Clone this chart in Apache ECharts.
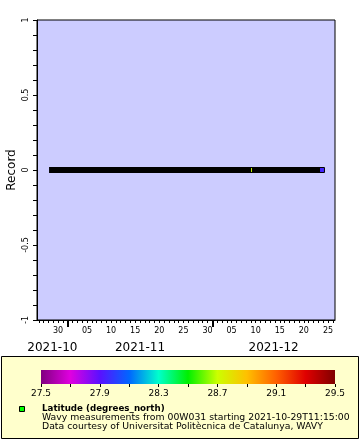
<!DOCTYPE html>
<html>
<head>
<meta charset="utf-8">
<script src="https://cdn.jsdelivr.net/npm/echarts@6/dist/echarts.min.js"></script>
<style>html,body{margin:0;padding:0;background:#fff}#c{width:360px;height:440px}</style>
</head>
<body>
<div id="c"></div>
<script>
// ---- data ----
const xRange = ['2021-10-25T15:00:00Z', '2021-12-26T11:00:00Z'];
// dense runs of records (hourly markers whose black outlines merge into one band)
const runStart = ['2021-10-28T18:00:00Z', '2021-12-09T20:30:00Z'];
const runEnd   = ['2021-12-08T10:00:00Z', '2021-12-22T17:30:00Z'];
const runRecord = [0, 0];
// isolated records whose latitude fill is still visible
const sampleTime = ['2021-12-08T20:00:00Z', '2021-12-23T18:00:00Z'];
const sampleRecord = [0, 0];
const sampleLatitude = [28.7, 27.95];
// tick labels
const dayLabelDates = ['2021-10-30','2021-11-05','2021-11-10','2021-11-15','2021-11-20','2021-11-25',
                       '2021-11-30','2021-12-05','2021-12-10','2021-12-15','2021-12-20','2021-12-25'];
const monthLabels = ['2021-10', '2021-11', '2021-12'];
const yTicks = [-1, -0.5, 0, 0.5, 1];
const colorRange = [27.5, 29.5];
const palette = ['#800080','#e000e0','#5a10ff','#0066ff','#00ffcc','#00f000','#ccff00','#ffc000','#ff6000','#e00000','#800000'];
const legendTitle = 'Latitude (degrees_north)';
const legendLines = ['Wavy measurements from 00W031 starting 2021-10-29T11:15:00',
                     'Data courtesy of Universitat Politècnica de Catalunya, WAVY'];

// ---- build ----
const FONT = 'DejaVu Sans';
const DAY = 86400000;
const xMin = Date.parse(xRange[0]), xMax = Date.parse(xRange[1]);
const dailyTicks = [];
for (let t = Math.ceil(xMin / DAY) * DAY; t <= xMax; t += DAY) dailyTicks.push(t);
const dayLabelValues = dayLabelDates.map(d => Date.parse(d + 'T00:00:00Z'));
const monthStarts = monthLabels.map(m => Date.parse(m + '-01T00:00:00Z'));
const monthEnds = monthLabels.map(m => { const [y, mo] = m.split('-').map(Number); return Date.UTC(y, mo, 1); });
const monthMids = monthLabels.map((m, i) => (Math.max(monthStarts[i], xMin) + Math.min(monthEnds[i], xMax)) / 2);
const monthTicks = monthStarts.filter(t => t > xMin && t < xMax);

const runData = runStart.map((s, i) => [Date.parse(s), Date.parse(runEnd[i]), runRecord[i]]);
const sampleData = sampleTime.map((s, i) => [Date.parse(s), sampleRecord[i], sampleLatitude[i]]);

const mainGrid = { left: 37, top: 20, width: 298, height: 300, containLabel: false, outerBoundsMode: 'none' };
const chart = echarts.init(document.getElementById('c'), null, { renderer: 'canvas' });

const stops = palette.map((c, i) => ({ offset: i / (palette.length - 1), color: c }));
const HALF = 3; // marker half size in px

chart.setOption({
  animation: false,
  backgroundColor: '#fff',
  textStyle: { fontFamily: FONT, color: '#000' },
  grid: [
    Object.assign({ show: true, backgroundColor: '#ccccff', borderColor: '#000', borderWidth: 1 }, mainGrid),
    Object.assign({ show: false }, mainGrid),
    { left: 41, top: 370, width: 294, height: 14, show: true, borderWidth: 0, borderColor: 'transparent',
      containLabel: false, outerBoundsMode: 'none',
      backgroundColor: new echarts.graphic.LinearGradient(0, 0, 1, 0, stops) }
  ],
  xAxis: [
    { type: 'value', gridIndex: 0, min: xMin, max: xMax, position: 'bottom',
      splitLine: { show: false },
      axisLine: { show: true, onZero: false, lineStyle: { color: '#000', width: 1 } },
      axisTick: { show: true, customValues: dailyTicks, length: 3, lineStyle: { color: '#000', width: 1 } },
      axisLabel: { customValues: dayLabelValues, fontSize: 8, fontFamily: FONT, color: '#000', margin: 7,
        formatter: v => String(new Date(v).getUTCDate()).padStart(2, '0') } },
    { type: 'value', gridIndex: 1, min: xMin, max: xMax, position: 'bottom',
      splitLine: { show: false }, axisLine: { show: false, onZero: false },
      axisTick: { show: true, customValues: monthTicks, length: 7, lineStyle: { color: '#000', width: 2 } },
      axisLabel: { customValues: monthMids, fontSize: 12, fontFamily: FONT, color: '#000', margin: 22,
        formatter: v => { const i = monthMids.findIndex(m => Math.abs(m - v) < 1000); return i >= 0 ? monthLabels[i] : ''; } } },
    { type: 'value', gridIndex: 2, min: colorRange[0], max: colorRange[1], interval: 0.4,
      splitLine: { show: false }, axisLine: { show: false, onZero: false },
      axisTick: { show: true, length: 3, lineStyle: { color: '#000', width: 1 } },
      minorTick: { show: true, splitNumber: 2, length: 3, lineStyle: { color: '#000', width: 1 } },
      axisLabel: { fontSize: 9, fontFamily: FONT, color: '#000', margin: 5, showMinLabel: true, showMaxLabel: true,
        formatter: v => v.toFixed(1) } }
  ],
  yAxis: [
    { type: 'value', gridIndex: 0, min: -1, max: 1, interval: 0.5,
      name: 'Record', nameLocation: 'middle', nameGap: 19, nameRotate: 90, nameMoveOverlap: false,
      nameTextStyle: { fontSize: 12, fontFamily: FONT, color: '#000' },
      splitLine: { show: false },
      axisLine: { show: true, onZero: false, lineStyle: { color: '#000', width: 1 } },
      axisTick: { show: true, length: 4, lineStyle: { color: '#000' } },
      minorTick: { show: true, splitNumber: 5, length: 4, lineStyle: { color: '#000' } },
      axisLabel: { customValues: yTicks, rotate: 90, fontSize: 8, fontFamily: FONT, color: '#000', margin: 7 } },
    { type: 'value', gridIndex: 1, min: -1, max: 1, show: false },
    { type: 'value', gridIndex: 2, min: 0, max: 1, show: false }
  ],
  visualMap: {
    type: 'continuous', show: false, min: colorRange[0], max: colorRange[1],
    dimension: 2, seriesIndex: 0, inRange: { color: palette }
  },
  series: [
    { // isolated records: coloured fill + black outline
      type: 'custom', xAxisIndex: 0, yAxisIndex: 0, z: 2,
      encode: { x: 0, y: 1 },
      data: sampleData,
      renderItem: (params, api) => {
        const p = api.coord([api.value(0), api.value(1)]);
        return { type: 'rect', shape: { x: p[0] - HALF + 0.5, y: p[1] - HALF + 0.5, width: 2 * HALF - 1, height: 2 * HALF - 1 },
                 style: { fill: api.visual('color'), stroke: '#000', lineWidth: 1 } };
      }
    },
    { // dense runs: overlapping black marker outlines
      type: 'custom', xAxisIndex: 0, yAxisIndex: 0, z: 3,
      encode: { x: [0, 1], y: 2 },
      data: runData,
      renderItem: (params, api) => {
        const p0 = api.coord([api.value(0), api.value(2)]);
        const p1 = api.coord([api.value(1), api.value(2)]);
        return { type: 'rect', shape: { x: p0[0] - HALF, y: p0[1] - HALF, width: p1[0] - p0[0] + 2 * HALF, height: 2 * HALF },
                 style: { fill: '#000' } };
      }
    }
  ],
  graphic: [
    { type: 'rect', z: -1, shape: { x: 1.5, y: 356.5, width: 357, height: 82 }, style: { fill: '#ffffcc', stroke: '#000', lineWidth: 1 } },
    { type: 'rect', shape: { x: 19.5, y: 406.5, width: 5, height: 5 }, style: { fill: '#00ff00', stroke: '#000', lineWidth: 1 } },
    { type: 'text', x: 42, y: 409, style: { text: legendTitle, font: 'bold 8.7px "DejaVu Sans"', fill: '#000', verticalAlign: 'middle' } },
    { type: 'text', x: 42, y: 418, style: { text: legendLines[0], font: '9.3px "DejaVu Sans"', fill: '#000', verticalAlign: 'middle' } },
    { type: 'text', x: 42, y: 427, style: { text: legendLines[1], font: '9.3px "DejaVu Sans"', fill: '#000', verticalAlign: 'middle' } }
  ]
});
</script>
</body>
</html>
